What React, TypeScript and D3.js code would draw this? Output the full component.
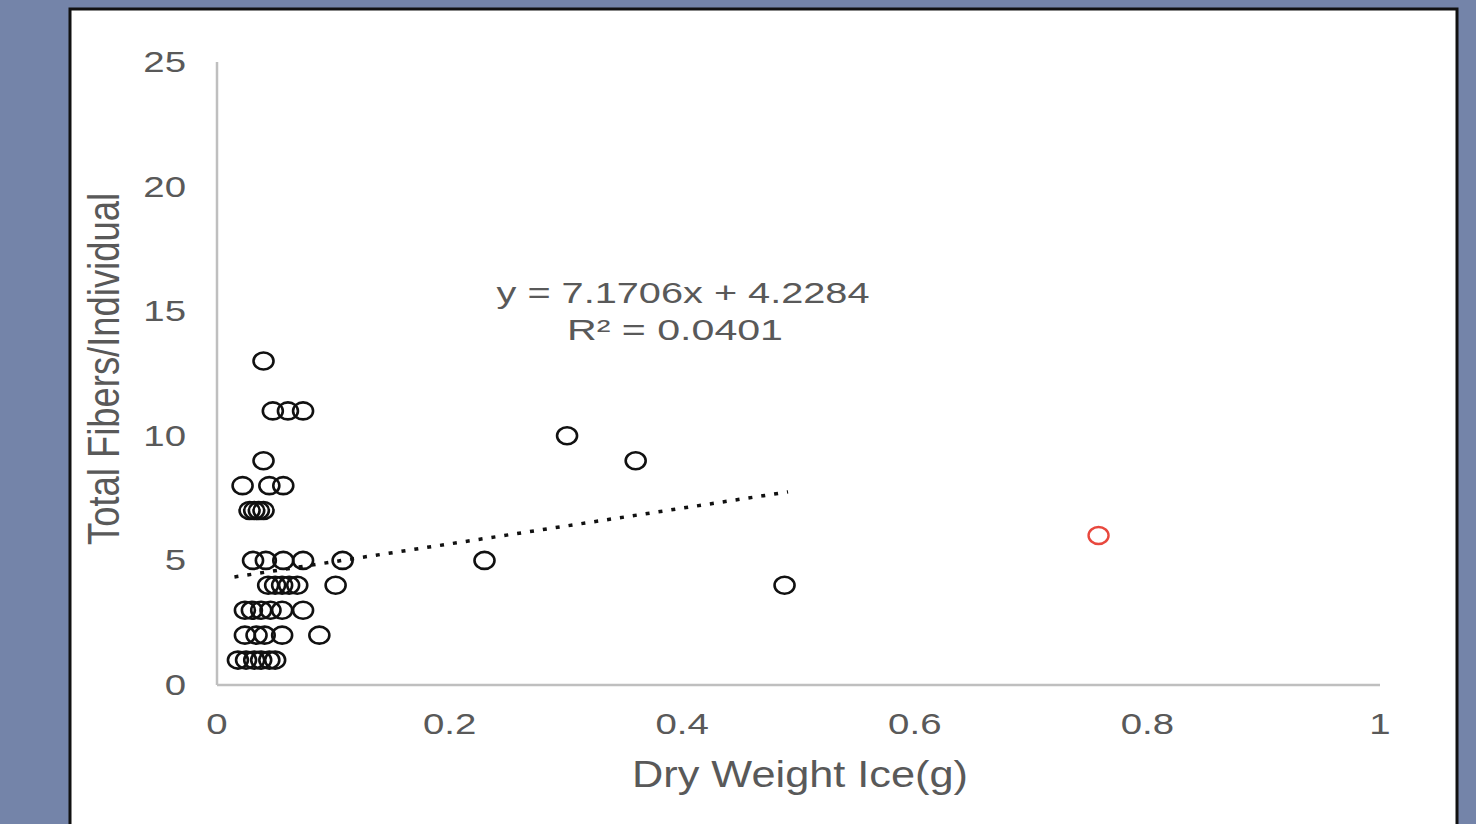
import * as d3 from 'd3'

// sample values (x = dry weight of ice in g, y = fibers)
const dryWeight = [
  0.040,
  0.048, 0.061, 0.074,
  0.301,
  0.040, 0.360,
  0.022, 0.045, 0.057,
  0.028, 0.032, 0.036, 0.040,
  0.031, 0.042, 0.057, 0.074, 0.108, 0.230,
  0.044, 0.050, 0.056, 0.062, 0.069, 0.102, 0.488,
  0.024, 0.030, 0.038, 0.046, 0.056, 0.074,
  0.024, 0.034, 0.041, 0.056, 0.088,
  0.018, 0.025, 0.032, 0.038, 0.045, 0.050,
]
const totalFibers = [
  13,
  11, 11, 11,
  10,
  9, 9,
  8, 8, 8,
  7, 7, 7, 7,
  5, 5, 5, 5, 5, 5,
  4, 4, 4, 4, 4, 4, 4,
  3, 3, 3, 3, 3, 3,
  2, 2, 2, 2, 2,
  1, 1, 1, 1, 1, 1,
]
// the outlier drawn in red
const outlierX = [0.758]
const outlierY = [6]

const slope = 7.1706
const intercept = 4.2284
const equationLabel = 'y = 7.1706x + 4.2284'
const r2Label = 'R² = 0.0401'

const xTicks = [0, 0.2, 0.4, 0.6, 0.8, 1]
const yTicks = [0, 5, 10, 15, 20, 25]

const W = 1476
const H = 824
const font = 'Liberation Sans, Arial, sans-serif'
const grey = '#595959'
const sx = 1.28 // the picture is stretched sideways

export default function App() {
  const x = d3.scaleLinear().domain([0, 1]).range([217, 1380])
  const y = d3.scaleLinear().domain([0, 25]).range([685, 62])

  const pts = dryWeight.map((d, i) => ({ x: d, y: totalFibers[i] }))
  const [x0, x1] = d3.extent(dryWeight) as [number, number]
  const trend = d3.line<number>()
    .x(d => x(d))
    .y(d => y(slope * d + intercept))

  return (
    <svg width={W} height={H} style={{ position: 'fixed', left: 0, top: 0, display: 'block' }}>
      <rect x={0} y={0} width={W} height={H} fill="#7484a9" />
      <rect x={70} y={9} width={1387} height={900} fill="#fff" stroke="#111" strokeWidth={3} />

      {/* axes */}
      <line x1={x(0)} x2={x(0)} y1={y(25)} y2={y(0)} stroke="#bfbfbf" strokeWidth={2.5} />
      <line x1={x(0)} x2={x(1)} y1={y(0)} y2={y(0)} stroke="#bfbfbf" strokeWidth={2.5} />

      {yTicks.map(t => (
        <g key={'y' + t} transform={`translate(186,${y(t) + 10}) scale(${sx},1)`}>
          <text textAnchor="end" fontFamily={font} fontSize={30} fill={grey}>{t}</text>
        </g>
      ))}
      {xTicks.map(t => (
        <g key={'x' + t} transform={`translate(${x(t)},${y(0) + 49}) scale(${sx},1)`}>
          <text textAnchor="middle" fontFamily={font} fontSize={30} fill={grey}>{t}</text>
        </g>
      ))}

      {/* axis titles */}
      <text x={800} y={787} textAnchor="middle" fontFamily={font} fontSize={37} fill={grey}
        textLength={336} lengthAdjust="spacingAndGlyphs">Dry Weight Ice(g)</text>
      <g transform={`translate(119,369) rotate(-90) scale(1,1.25)`}>
        <text textAnchor="middle" fontFamily={font} fontSize={36} fill={grey}
          textLength={352} lengthAdjust="spacingAndGlyphs">Total Fibers/Individual</text>
      </g>

      {/* points */}
      {pts.map((p, i) => (
        <ellipse key={i} cx={x(p.x)} cy={y(p.y)} rx={10} ry={8.5} fill="none" stroke="#111" strokeWidth={2.6} />
      ))}
      {outlierX.map((d, i) => (
        <ellipse key={'r' + i} cx={x(d)} cy={y(outlierY[i])} rx={10} ry={8.5} fill="none" stroke="#e8483e" strokeWidth={2.4} />
      ))}

      {/* linear trendline */}
      <path d={trend([x0 - 0.003, x1 + 0.003]) || ''} fill="none" stroke="#111" strokeWidth={3.5} strokeDasharray="4,9" />

      <text x={683} y={303} textAnchor="middle" fontFamily={font} fontSize={29} fill={grey}
        textLength={373} lengthAdjust="spacingAndGlyphs">{equationLabel}</text>
      <text x={675} y={340} textAnchor="middle" fontFamily={font} fontSize={29} fill={grey}
        textLength={216} lengthAdjust="spacingAndGlyphs">{r2Label}</text>
    </svg>
  )
}
